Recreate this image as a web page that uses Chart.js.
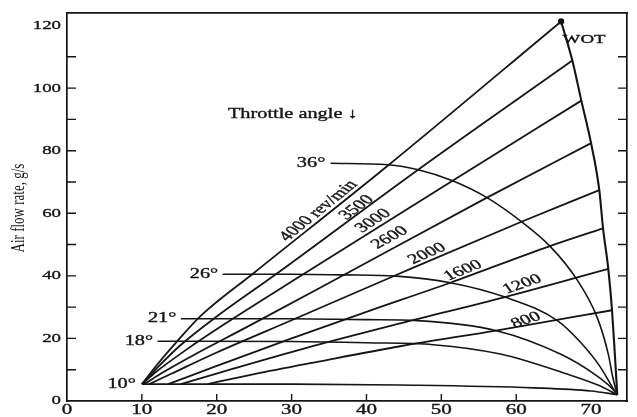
<!DOCTYPE html>
<html lang="en">
<head>
<meta charset="UTF-8" />
<title>Air flow rate, g/s</title>
<script src="https://cdn.jsdelivr.net/npm/chart.js@4.4.1/dist/chart.umd.min.js"></script>
<style>
  html, body { margin: 0; padding: 0; background: #ffffff; }
  .chart-container { width: 637px; height: 417px; }
</style>
</head>
<body>
<div class="chart-container"><canvas id="myChart"></canvas></div>
<script>
// ---------------- data ----------------
const xLabels = [0, 10, 20, 30, 40, 50, 60, 70];
const yLabels = [0, 20, 40, 60, 80, 100, 120];

// constant engine speed lines (rev/min)
const rpm4000 = [[10, 5.4], [12, 11.5], [14.5, 18.5], [18, 27.5], [25, 41], [43, 75.5], [66, 121.3]];
const rpm3500 = [[10, 5.4], [12, 10.5], [15, 17.5], [20, 27], [27.9, 40.5], [46.9, 73.9], [67.5, 108.8]];
const rpm3000 = [[10, 5.4], [12, 9.5], [16, 16.5], [21, 24.5], [31.5, 40.4], [51.5, 70.4], [68.7, 96]];
const rpm2600 = [[10.3, 5.4], [13, 9.4], [17, 14.8], [24, 23.6], [36.9, 40.2], [56.1, 65], [70, 82.4]];
const rpm2000 = [[11, 5.4], [14, 8.8], [20, 15.5], [30, 25.8], [43.9, 40.2], [60.7, 57.3], [71.1, 67.4]];
const rpm1600 = [[13.5, 5.4], [20, 11.2], [30, 20], [40, 28.5], [51.2, 37.8], [64.5, 49.5], [71.6, 55.2]];
const rpm1200 = [[15.2, 5.4], [22, 10.2], [32, 17], [44.5, 24.8], [58.5, 33.2], [72.3, 42.2]];
const rpm800 = [[18.8, 5.4], [25, 8.6], [33.6, 12.6], [44.5, 17.5], [57.5, 22.6], [72.8, 29]];

// wide open throttle
const wot = [[66, 121.3], [67.5, 108.8], [68.7, 96], [70, 82.4], [71.1, 67.4], [71.6, 55.2], [72.3, 42.2], [72.8, 29], [73.2, 14], [73.5, 2]];

// constant throttle angle curves
const thr36 = [[35.2, 76], [42.9, 75.5], [46.9, 73.9], [51.5, 70.4], [56.1, 65], [60.7, 57.3], [64.5, 49.5], [68, 39.2], [70.8, 26.8], [72.3, 15], [72.9, 7.6], [73.5, 2]];
const thr26 = [[20.8, 40.5], [30, 40.5], [37, 40.3], [44, 39.9], [51.2, 37.8], [58.5, 33.2], [65.5, 25.7], [68.5, 19], [71.2, 11], [72.9, 4.2], [73.5, 2]];
const thr21 = [[15.2, 26.3], [30, 26.3], [40, 26], [46.8, 25.7], [57.5, 22.4], [65.9, 15], [70.5, 8.5], [72.9, 3.8], [73.5, 2]];
const thr18 = [[12.1, 19.1], [30, 19], [40, 18.6], [48.9, 18], [57.9, 15], [66.8, 8.6], [71, 5], [73.5, 2]];
const thr10 = [[10, 5.4], [30, 5.4], [44.5, 5.1], [62.3, 4.2], [70, 3.2], [73.5, 2]];

// text on the chart: [text, x, y, size, align, angle]
const curveLabels = [
  ["36°", 34.5, 76, 14, "right", 0],
  ["26°", 20.2, 40.5, 14, "right", 0],
  ["21°", 14.6, 26.3, 14, "right", 0],
  ["18°", 11.5, 19.1, 14, "right", 0],
  ["10°", 9.2, 5.4, 14, "right", 0],
  ["WOT", 66.2, 115.5, 13, "left", 0],
  ["Throttle angle ↓", 21.5, 91.7, 14, "left", 0],
  ["4000 rev/min", 33.6, 60.8, 14, "center", 39],
  ["3500", 38.7, 61.8, 14, "center", 36],
  ["3000", 40.9, 57.6, 14, "center", 33],
  ["2600", 43.1, 52.2, 14, "center", 29],
  ["2000", 48.1, 47.1, 14, "center", 24],
  ["1600", 52.9, 41.7, 14, "center", 22],
  ["1200", 60.8, 37.3, 14, "center", 19],
  ["800", 61.3, 25.8, 14, "center", 18]
];

const INK = "#151515";
const STRETCH = 1.45; // the scanned lettering is wide

function toPoints(arr) {
  return arr.map(function (p) { return { x: p[0], y: p[1] }; });
}

function curve(arr, width) {
  return {
    data: toPoints(arr),
    borderColor: INK,
    backgroundColor: INK,
    borderWidth: width || 1.8,
    pointRadius: 0,
    fill: false,
    cubicInterpolationMode: "monotone"
  };
}

// wide serif text, rotated so it still follows a line after stretching
function drawText(ctx, str, px, py, size, align, angleDeg) {
  ctx.save();
  ctx.translate(px, py);
  ctx.scale(STRETCH, 1);
  if (angleDeg) {
    ctx.rotate(-Math.atan(STRETCH * Math.tan(angleDeg * Math.PI / 180)));
  }
  ctx.font = size + 'px "Liberation Serif", "Times New Roman", serif';
  ctx.textAlign = align;
  ctx.textBaseline = "middle";
  ctx.fillStyle = INK;
  ctx.strokeStyle = INK;
  ctx.lineWidth = 0.35;
  ctx.fillText(str, 0, 0);
  ctx.strokeText(str, 0, 0);
  ctx.restore();
}

const textPlugin = {
  id: "textPlugin",
  afterDraw(chart) {
    const ctx = chart.ctx;
    const xs = chart.scales.x;
    const ys = chart.scales.y;
    const area = chart.chartArea;

    // inward tick marks
    ctx.save();
    ctx.strokeStyle = INK;
    ctx.lineWidth = 1.4;
    ys.ticks.forEach(function (t) {
      if (t.value % 10 !== 0 || t.value === 0) return;
      const py = ys.getPixelForValue(t.value);
      ctx.beginPath();
      ctx.moveTo(area.left, py); ctx.lineTo(area.left + 9, py);
      ctx.moveTo(area.right, py); ctx.lineTo(area.right - 9, py);
      ctx.stroke();
    });
    xs.ticks.forEach(function (t) {
      if (t.value % 10 !== 0 || t.value === 0) return;
      const px = xs.getPixelForValue(t.value);
      ctx.beginPath();
      ctx.moveTo(px, area.bottom); ctx.lineTo(px, area.bottom - 7);
      ctx.stroke();
    });
    ctx.restore();

    // tick labels
    xLabels.forEach(function (v) {
      drawText(ctx, String(v), xs.getPixelForValue(v), area.bottom + 9, 14.5, "center", 0);
    });
    yLabels.forEach(function (v) {
      drawText(ctx, String(v), area.left - 6, ys.getPixelForValue(v), 13, "right", 0);
    });

    // y axis title
    ctx.save();
    ctx.translate(19, 208);
    ctx.scale(STRETCH, 1);
    ctx.rotate(-Math.PI / 2);
    ctx.font = '13px "Liberation Serif", "Times New Roman", serif';
    ctx.textAlign = "center";
    ctx.textBaseline = "middle";
    ctx.fillStyle = INK;
    ctx.fillText("Air flow rate, g/s", 0, 0);
    ctx.restore();

    // curve labels
    curveLabels.forEach(function (l) {
      drawText(ctx, l[0], xs.getPixelForValue(l[1]), ys.getPixelForValue(l[2]), l[3], l[4], l[5]);
    });
  }
};

const topEnd = curve(rpm4000);
topEnd.pointRadius = function (c) { return c.dataIndex === rpm4000.length - 1 ? 2.2 : 0; };

const axisBorder = { display: true, color: INK, width: 1.7 };

const ctx = document.getElementById("myChart").getContext("2d");
const myChart = new Chart(ctx, {
  type: "line",
  data: {
    datasets: [
      topEnd,
      curve(rpm3500), curve(rpm3000), curve(rpm2600), curve(rpm2000),
      curve(rpm1600), curve(rpm1200), curve(rpm800),
      curve(wot, 2.1),
      curve(thr36, 1.6), curve(thr26, 1.6), curve(thr21, 1.6), curve(thr18, 1.6), curve(thr10, 1.6)
    ]
  },
  options: {
    responsive: true,
    maintainAspectRatio: false,
    animation: false,
    layout: { padding: 0 },
    scales: {
      x: {
        type: "linear", min: 0, max: 74.8,
        grid: { display: false, drawTicks: false },
        border: axisBorder,
        ticks: { display: false, stepSize: 10 },
        afterFit(s) { s.height = 16; }
      },
      y: {
        type: "linear", min: 0, max: 124,
        grid: { display: false, drawTicks: false },
        border: axisBorder,
        ticks: { display: false, stepSize: 10 },
        afterFit(s) { s.width = 67; }
      },
      x2: {
        type: "linear", position: "top", min: 0, max: 74.8,
        grid: { display: false, drawTicks: false },
        border: axisBorder,
        ticks: { display: false },
        afterFit(s) { s.height = 13; }
      },
      y2: {
        type: "linear", position: "right", min: 0, max: 124,
        grid: { display: false, drawTicks: false },
        border: axisBorder,
        ticks: { display: false },
        afterFit(s) { s.width = 10; }
      }
    },
    plugins: {
      legend: { display: false },
      tooltip: { enabled: false }
    }
  },
  plugins: [textPlugin]
});
</script>
</body>
</html>
